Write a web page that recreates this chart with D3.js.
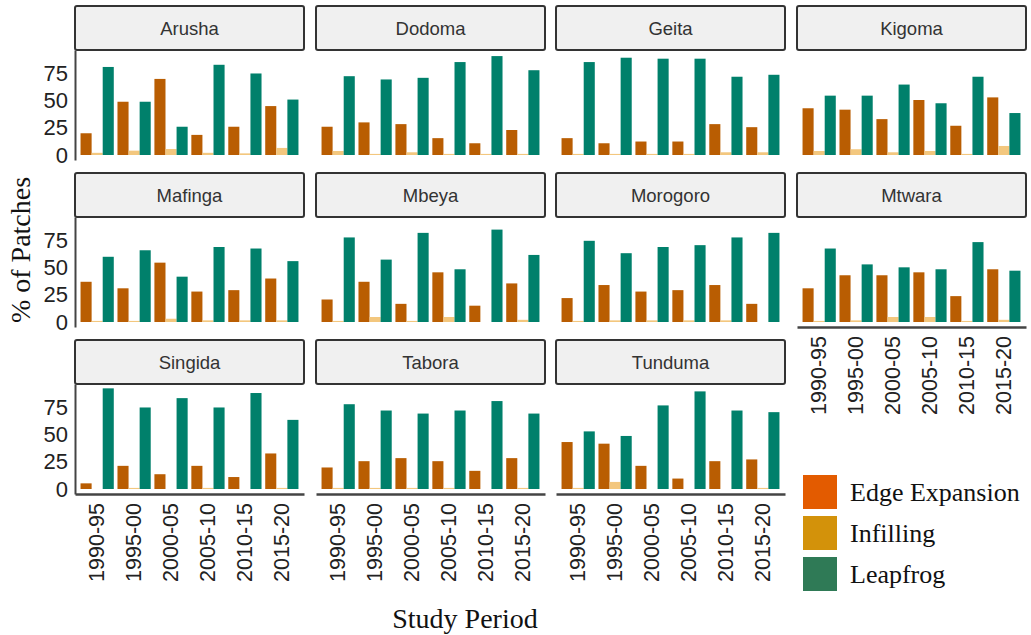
<!DOCTYPE html>
<html>
<head>
<meta charset="utf-8">
<script src="https://cdn.jsdelivr.net/npm/d3@7"></script>
<style>
  body { margin: 0; background: #fff; }
  svg { display: block; }
</style>
</head>
<body>
<div class="chart"></div>
<script>
"use strict";

// Regions in facet order (row by row)
const regions = ["Arusha", "Dodoma", "Geita", "Kigoma",
                 "Mafinga", "Mbeya", "Morogoro", "Mtwara",
                 "Singida", "Tabora", "Tunduma"];

const periods = ["1990-95", "1995-00", "2000-05", "2005-10", "2010-15", "2015-20"];

const growthTypes = ["Edge Expansion", "Infilling", "Leapfrog"];

// % of patches per region, one value per period
const edgeExpansion = [
  [20, 49, 70, 18.5, 26, 45],
  [26, 30, 28.4, 15.5, 10.8, 23],
  [15.5, 10.8, 12.4, 12.4, 28.4, 25.6],
  [43, 41.7, 33, 50.6, 26.9, 53],
  [37, 31, 54.6, 28, 29.3, 40],
  [20.7, 37, 16.7, 45.7, 15, 35.5],
  [22, 34, 28, 29.3, 34, 16.7],
  [31, 43, 43, 45.7, 23.8, 48.5],
  [5.2, 21.3, 13.6, 21.3, 11, 32.7],
  [19.8, 25.6, 28.4, 25.6, 16.7, 28.4],
  [43.2, 41.7, 21.3, 9.6, 25.6, 27.2]
];

const infilling = [
  [2, 4, 5.5, 2, 1.5, 6.5],
  [3.7, 1, 2.5, 1, 1, 1],
  [1, 1, 1, 1, 2.5, 2.5],
  [3.7, 5.3, 2.5, 3.7, 1, 8.3],
  [1, 1, 3, 1.5, 1.5, 1.5],
  [1, 4.6, 1, 4.6, 0, 2],
  [1, 1.5, 1.5, 1.5, 1.5, 0],
  [1, 1.5, 4.6, 4.6, 1, 2],
  [0, 1, 0, 1, 0, 1],
  [1, 1, 1, 1, 0, 1],
  [1, 6.5, 0, 0, 0, 1]
];

const leapfrog = [
  [81, 49, 26, 83, 75, 51],
  [72.5, 69.5, 71, 85.5, 91, 78],
  [85.5, 89.5, 88.6, 88.6, 72, 73.8],
  [54.6, 54.6, 64.8, 47.6, 72, 38.6],
  [60, 66, 41.7, 69, 67.6, 56],
  [77.8, 57.4, 82, 48.5, 85, 61.7],
  [74.7, 63.3, 69, 70.7, 77.8, 82],
  [67.6, 53, 50.3, 48.5, 73.5, 47.2],
  [92.6, 75, 83.6, 75, 88.3, 63.6],
  [78, 72.2, 69.4, 72.2, 80.9, 69.4],
  [53, 48.8, 76.9, 89.8, 72.2, 70.7]
];

const yTicks = [0, 25, 50, 75];

const barColors = ["#b95d02", "#f3c77e", "#00806b"];
const legendColors = ["#e35b00", "#d3920a", "#2f7a56"];

drawChart();

function drawChart() {
  const width = 1031;
  const height = 635;

  const svg = d3.select(".chart")
    .append("svg")
      .attr("width", width)
      .attr("height", height);

  // Facet grid geometry
  const colLeft = [75, 316, 556, 797];
  const colWidth = 229;
  const rowTop = [6, 173, 340];
  const stripHeight = 44;
  const panelHeight = 110;
  const nCols = 4;

  const series = [edgeExpansion, infilling, leapfrog];

  regions.forEach((region, i) => {
    const col = i % nCols;
    const row = Math.floor(i / nCols);
    const left = colLeft[col];
    const top = rowTop[row];
    const panelTop = top + stripHeight;
    const panelBottom = panelTop + panelHeight;

    // last panel of its column gets the x axis
    const isBottom = i + nCols >= regions.length;

    const g = svg.append("g").attr("class", "panel");

    // Strip
    g.append("rect")
      .attr("x", left)
      .attr("y", top)
      .attr("width", colWidth)
      .attr("height", stripHeight)
      .attr("rx", 2)
      .attr("fill", "#f0f0f0")
      .attr("stroke", "#333")
      .attr("stroke-width", 2);

    g.append("text")
      .attr("x", left + colWidth / 2)
      .attr("y", top + stripHeight / 2)
      .attr("text-anchor", "middle")
      .attr("dominant-baseline", "central")
      .attr("font-family", "Liberation Sans, Arial, sans-serif")
      .attr("font-size", 18.5)
      .attr("fill", "#333")
      .text(region);

    // Scales
    const xScale = d3.scaleBand()
      .domain(periods)
      .range([left, left + colWidth])
      .paddingInner(0.1)
      .paddingOuter(0.15);

    const xInner = d3.scaleBand()
      .domain(growthTypes)
      .range([0, xScale.bandwidth()]);

    const yScale = d3.scaleLinear()
      .domain([-4.6, 96.6])
      .range([panelBottom, panelTop]);

    // Bars
    const bars = [];
    periods.forEach((p, j) => {
      growthTypes.forEach((t, k) => {
        bars.push({ period: p, type: t, k, value: series[k][i][j] });
      });
    });

    g.selectAll("rect.bar")
      .data(bars)
      .join("rect")
        .attr("class", "bar")
        .attr("x", d => xScale(d.period) + xInner(d.type))
        .attr("width", xInner.bandwidth())
        .attr("y", d => yScale(d.value))
        .attr("height", d => yScale(0) - yScale(d.value))
        .attr("fill", d => barColors[d.k]);

    // Y axis only on the first column
    if (col === 0) {
      const yAxis = d3.axisLeft(yScale)
        .tickValues(yTicks)
        .tickSize(0)
        .tickPadding(7);

      const ya = g.append("g")
        .attr("transform", `translate(${left}, 0)`)
        .call(yAxis);

      ya.select(".domain")
        .attr("stroke", "#444")
        .attr("stroke-width", 2);

      ya.selectAll(".tick text")
        .attr("font-family", "Liberation Sans, Arial, sans-serif")
        .attr("font-size", 22)
        .attr("fill", "#222");
    }

    if (isBottom) {
      const xAxis = d3.axisBottom(xScale)
        .tickSize(0)
        .tickPadding(0);

      const xa = g.append("g")
        .attr("transform", `translate(0, ${panelBottom})`)
        .call(xAxis);

      xa.select(".domain")
        .attr("stroke", "#444")
        .attr("stroke-width", 2.5);

      xa.selectAll(".tick text")
        .attr("font-family", "Liberation Sans, Arial, sans-serif")
        .attr("font-size", 21.5)
        .attr("fill", "#222")
        .attr("text-anchor", "end")
        .attr("dominant-baseline", "central")
        .attr("dy", null)
        .attr("y", 0)
        .attr("transform", "translate(0, 9) rotate(-90)");
    }
  });

  // Axis titles
  svg.append("text")
    .attr("transform", "translate(20, 250) rotate(-90)")
    .attr("text-anchor", "middle")
    .attr("dominant-baseline", "central")
    .attr("font-family", "Liberation Serif, Times New Roman, serif")
    .attr("font-size", 28)
    .attr("fill", "#111")
    .text("% of Patches");

  svg.append("text")
    .attr("x", 465)
    .attr("y", 618)
    .attr("text-anchor", "middle")
    .attr("dominant-baseline", "central")
    .attr("font-family", "Liberation Serif, Times New Roman, serif")
    .attr("font-size", 28)
    .attr("fill", "#111")
    .text("Study Period");

  // Legend
  const legend = svg.append("g")
    .attr("transform", "translate(803, 475)");

  const items = legend.selectAll("g")
    .data(growthTypes)
    .join("g")
      .attr("transform", (d, i) => `translate(0, ${i * 41})`);

  items.append("rect")
    .attr("width", 34)
    .attr("height", 34)
    .attr("fill", (d, i) => legendColors[i]);

  items.append("text")
    .attr("x", 47)
    .attr("y", 17)
    .attr("dominant-baseline", "central")
    .attr("font-family", "Liberation Serif, Times New Roman, serif")
    .attr("font-size", 26)
    .attr("fill", "#111")
    .text(d => d);
}
</script>
</body>
</html>
